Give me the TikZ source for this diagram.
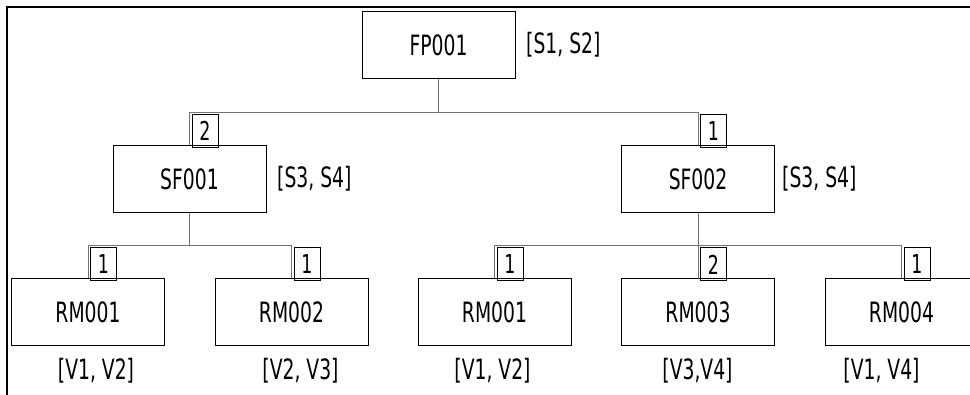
\documentclass[tikz,border=0pt]{standalone}
\usepackage{fontspec}
\setmainfont{DejaVu Sans}[FakeStretch=0.67]
\usepackage{tikz}

\begin{document}
\begin{tikzpicture}[x=1pt,y=-1pt,
    box/.style={draw=black,line width=1pt,minimum width=153pt,minimum height=67pt,inner sep=0pt,font=\fontsize{28}{32}\selectfont},
    cnt/.style={draw=black,line width=1pt,minimum width=26pt,minimum height=33pt,inner sep=0pt,anchor=south west,font=\fontsize{26}{30}\selectfont},
    lbl/.style={inner sep=0pt,font=\fontsize{28}{32}\selectfont},
    conn/.style={draw=black!55,line width=1pt}]
  \useasboundingbox (0,0) rectangle (970,395);
  % frame
  \draw[line width=2pt] (7,396) -- (7,7) -- (971,7);
  % bus heights
  \coordinate (bus1) at (0,113);
  \coordinate (bus2) at (0,246);
  % top level
  \node[box] (fp) at (438.5,45.5) {FP001};
  \node[lbl,anchor=west] (l-fp) at (526,45) {[S1, S2]};
  % second level
  \node[box] (sf1) at (189.5,179) {SF001};
  \node[box] (sf2) at (698,179) {SF002};
  \node[lbl,anchor=west] (l-sf1) at (277,179) {[S3, S4]};
  \node[lbl,anchor=west] (l-sf2) at (782,179) {[S3, S4]};
  % third level
  \node[box] (rm1a) at (88,312.5) {RM001};
  \node[box] (rm2) at (291.5,312.5) {RM002};
  \node[box] (rm1b) at (494.5,312.5) {RM001};
  \node[box] (rm3) at (698,312.5) {RM003};
  \node[box] (rm4) at (901.5,312.5) {RM004};
  \node[lbl] (l-rm1a) at (96,371) {[V1, V2]};
  \node[lbl] (l-rm2) at (300.5,371) {[V2, V3]};
  \node[lbl] (l-rm1b) at (492.5,371) {[V1, V2]};
  \node[lbl] (l-rm3) at (697.5,371) {[V3,V4]};
  \node[lbl] (l-rm4) at (881.5,371) {[V1, V4]};
  % connectors
  \draw[conn] (fp.south) -- (fp.south |- bus1);
  \draw[conn] (sf1.north) -- (sf1.north |- bus1) -| (sf2.north);
  \draw[conn] (sf1.south) -- (sf1.south |- bus2);
  \draw[conn] (rm1a.north) -- (rm1a.north |- bus2) -| (rm2.north);
  \draw[conn] (sf2.south) -- (rm3.north);
  \draw[conn] (rm1b.north) -- (rm1b.north |- bus2) -| (rm4.north);
  % quantities
  \node[cnt] (c-sf1) at ([xshift=2pt,yshift=-3pt]sf1.north) {2};
  \node[cnt] (c-sf2) at ([xshift=2pt,yshift=-3pt]sf2.north) {1};
  \node[cnt] (c-rm1a) at ([xshift=2pt,yshift=-3pt]rm1a.north) {1};
  \node[cnt] (c-rm2) at ([xshift=2pt,yshift=-3pt]rm2.north) {1};
  \node[cnt] (c-rm1b) at ([xshift=2pt,yshift=-3pt]rm1b.north) {1};
  \node[cnt] (c-rm3) at ([xshift=2pt,yshift=-3pt]rm3.north) {2};
  \node[cnt] (c-rm4) at ([xshift=2pt,yshift=-3pt]rm4.north) {1};
\end{tikzpicture}
\end{document}
